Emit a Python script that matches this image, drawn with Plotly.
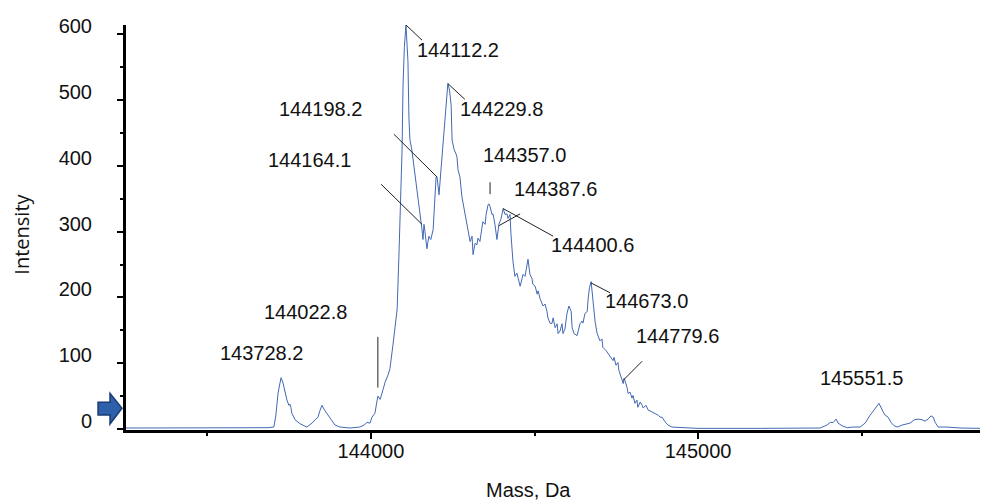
import plotly.graph_objects as go

# ---- spectrum data (mass in Da, intensity) ----
mass = [143251, 143477, 143685, 143703, 143709, 143716, 143725, 143731, 143737, 143743,
        143749, 143752, 143755, 143758, 143768, 143783, 143804, 143820, 143829, 143838,
        143844, 143850, 143859, 143865, 143878, 143890, 143905, 143936, 143966, 143979,
        143988, 143997, 144003, 144012, 144021, 144028, 144037, 144043, 144052, 144058,
        144067, 144073, 144080, 144086, 144092, 144095, 144098, 144102, 144107, 144110,
        144113, 144116, 144119, 144125, 144130, 144135, 144144, 144150, 144156, 144159,
        144162, 144165, 144168, 144171, 144174, 144177, 144180, 144183, 144190, 144194,
        144199, 144202, 144205, 144208, 144214, 144220, 144223, 144229, 144235, 144240,
        144245, 144248, 144254, 144260, 144263, 144266, 144272, 144278, 144284, 144291,
        144294, 144300, 144303, 144309, 144312, 144318, 144324, 144327, 144333, 144339,
        144342, 144349, 144352, 144358, 144361, 144364, 144370, 144373, 144379, 144385,
        144391, 144398, 144404, 144410, 144416, 144419, 144425, 144428, 144431, 144434,
        144440, 144446, 144450, 144456, 144462, 144465, 144471, 144477, 144480, 144486,
        144492, 144495, 144502, 144508, 144511, 144517, 144523, 144526, 144532, 144538,
        144541, 144547, 144553, 144557, 144563, 144569, 144572, 144578, 144584, 144587,
        144593, 144599, 144605, 144612, 144615, 144621, 144630, 144633, 144639, 144645,
        144648, 144654, 144661, 144664, 144668, 144673, 144679, 144685, 144691, 144700,
        144706, 144709, 144719, 144725, 144734, 144740, 144743, 144749, 144755, 144758,
        144768, 144771, 144774, 144783, 144786, 144792, 144798, 144801, 144807, 144813,
        144816, 144823, 144829, 144832, 144841, 144847, 144859, 144868, 144878, 144884,
        144890, 144899, 144908, 144920, 144945, 144997, 145190, 145373, 145394, 145404,
        145413, 145422, 145428, 145440, 145456, 145474, 145495, 145511, 145526, 145541,
        145553, 145566, 145572, 145581, 145590, 145599, 145609, 145624, 145639, 145648,
        145661, 145673, 145685, 145694, 145703, 145712, 145719, 145725, 145734, 145761,
        145801, 145865]
intensity = [1.5, 1.5, 2, 3, 20, 55, 78, 70, 56, 44,
             36, 38, 33, 24, 14, 8, 3, 9, 14, 18,
             28, 36, 28, 24, 14, 6, 3, 1.5, 3, 6,
             10, 9, 18, 24, 50, 45, 60, 71, 82, 92,
             127, 150, 182, 273, 360, 424, 523, 580, 614, 590,
             559, 473, 440, 424, 405, 388, 353, 323, 303, 288,
             311, 300, 290, 274, 284, 293, 290, 288, 303, 340,
             383, 383, 370, 356, 394, 433, 439, 489, 525, 515,
             493, 439, 425, 418, 413, 394, 383, 353, 338, 320,
             312, 296, 285, 293, 265, 282, 280, 290, 285, 305,
             315, 311, 326, 341, 342, 338, 326, 327, 311, 288,
             311, 320, 335, 326, 327, 320, 326, 296, 274, 255,
             232, 237, 229, 217, 229, 235, 232, 250, 258, 235,
             229, 220, 217, 205, 210, 198, 190, 187, 190, 179,
             169, 161, 160, 169, 154, 160, 145, 149, 160, 145,
             152, 175, 187, 179, 154, 145, 142, 149, 160, 164,
             161, 175, 179, 198, 215, 224, 190, 164, 146, 134,
             137, 124, 119, 115, 109, 104, 109, 97, 101, 89,
             74, 69, 77, 63, 54, 56, 47, 51, 39, 44,
             33, 41, 36, 32, 36, 29, 26, 24, 21, 18,
             18, 11, 6, 3, 2, 1, 1, 1.5, 6, 10,
             10, 15, 9, 5, 2, 3, 3, 9, 21, 32,
             39, 26, 21, 18, 10, 5, 3, 6, 8, 9,
             14, 15, 14, 12, 15, 20, 18, 10, 3, 3,
             1.5, 1]

# ---- peak labels ----
peak_labels = ["144112.2", "144229.8", "144198.2", "144164.1", "144357.0", "144387.6",
               "144400.6", "144673.0", "144779.6", "145551.5", "144022.8", "143728.2"]
label_x = [144138, 144269, 143716, 143682, 144339, 144434,
           144547, 144713, 144807, 145370, 143670, 143535]
label_y = [576, 487, 486, 409, 416, 365,
           279, 195, 142, 77, 178, 115]

# leader lines (from peak to label)
lead_x0 = [144107, 144235, 144070, 144031, 144364, 144391, 144404, 144673, 144771, 144021]
lead_y0 = [614, 525, 448, 372, 375, 309, 335, 222, 74, 140]
lead_x1 = [144156, 144287, 144202, 144156, 144364, 144456, 144557, 144731, 144829, 144021]
lead_y1 = [591, 501, 383, 311, 357, 327, 293, 207, 103, 63]

x_ticks = [144000, 145000]
y_ticks = [0, 100, 200, 300, 400, 500, 600]

FONT = "Arial, 'Liberation Sans', sans-serif"

fig = go.Figure()
fig.add_trace(go.Scatter(x=mass, y=intensity, mode="lines",
                         line=dict(color="#4169b4", width=1), hoverinfo="skip",
                         showlegend=False))

for t, lx, ly in zip(peak_labels, label_x, label_y):
    fig.add_annotation(x=lx, y=ly, text=t, showarrow=False, xanchor="left",
                       yanchor="middle", borderpad=0,
                       font=dict(family=FONT, size=20, color="#111111"))

for x0, y0, x1, y1 in zip(lead_x0, lead_y0, lead_x1, lead_y1):
    fig.add_shape(type="line", xref="x", yref="y", x0=x0, y0=y0, x1=x1, y1=y1,
                  line=dict(color="#222222", width=1))

# blue arrow marker at the left of the y-axis (paper coords, plot width 855 px)
fig.add_shape(type="path", xref="paper", yref="paper",
              path="M -0.0327 0.0686 L -0.0187 0.0686 L -0.0187 0.0907 L -0.0047 0.0539 "
                   "L -0.0187 0.0147 L -0.0187 0.0368 L -0.0327 0.0368 Z",
              fillcolor="#2d5fab", line=dict(color="#1a3a72", width=1.5))

# axis titles
fig.add_annotation(xref="paper", yref="paper", x=-0.1225, y=0.483, text="Intensity",
                   textangle=-90, showarrow=False, xanchor="center", yanchor="middle",
                   font=dict(family="'Open Sans', sans-serif", size=20, color="#111111"))
fig.add_annotation(xref="paper", yref="paper", x=0.471, y=-0.147, text="Mass, Da",
                   showarrow=False, xanchor="center", yanchor="middle",
                   font=dict(family=FONT, size=20, color="#111111"))

# the page body adds an 8px margin, so the figure is sized to fit the window
fig.update_layout(
    width=980, height=494,
    margin=dict(l=118, r=7, t=14, b=72),
    paper_bgcolor="white", plot_bgcolor="white",
    showlegend=False,
    xaxis=dict(range=[143251, 145865], tickvals=x_ticks, tickformat="d",
               showgrid=False, zeroline=False, showline=True, linecolor="black",
               linewidth=3, ticks="outside", ticklen=6, tickwidth=2, tickcolor="black",
               minor=dict(dtick=500, tick0=143500, ticks="outside", ticklen=3,
                          tickwidth=2, tickcolor="black"),
               ticklabelstandoff=-5,
               tickfont=dict(family=FONT, size=20, color="#111111")),
    yaxis=dict(range=[-1.5, 614], tickvals=y_ticks,
               showgrid=False, zeroline=False, showline=True, linecolor="black",
               linewidth=3, ticks="outside", ticklen=6, tickwidth=2, tickcolor="black",
               minor=dict(dtick=50, tick0=0, ticks="outside", ticklen=3,
                          tickwidth=2, tickcolor="black"),
               ticklabelstandoff=21, ticklabelshift=-8,
               tickfont=dict(family=FONT, size=20, color="#111111")),
)

fig.write_html("out.html")
